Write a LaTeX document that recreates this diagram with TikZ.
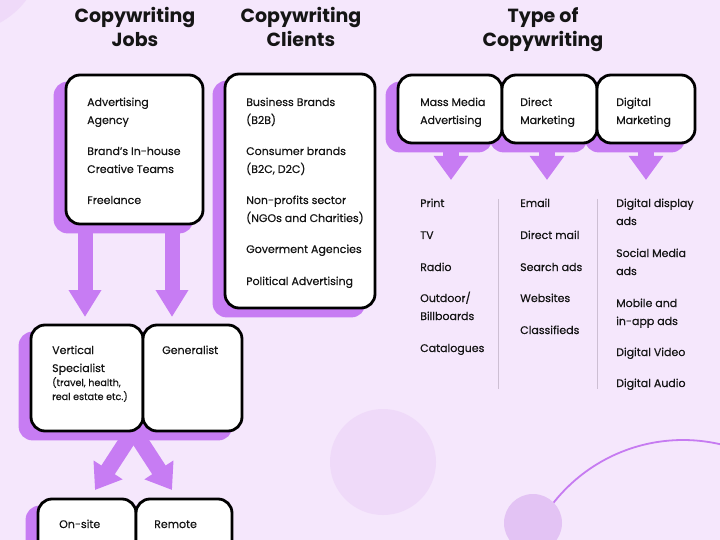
\documentclass[tikz,border=0pt]{standalone}
\usepackage{fontspec}
\setmainfont{Poppins}
\newfontfamily\bodyfont{Poppins}[FakeBold=0.35]
\usetikzlibrary{arrows.meta}
\definecolor{bgc}{HTML}{F5E7FC}
\definecolor{shadowc}{HTML}{C77CF3}
\definecolor{circa}{HTML}{EFDAF9}
\definecolor{circb}{HTML}{E3C3F4}
\definecolor{arcc}{HTML}{C67BF1}
\definecolor{sepc}{HTML}{CDBFD3}
\definecolor{ink}{HTML}{151515}
\pgfdeclarelayer{bg}
\pgfsetlayers{bg,main}
\newcommand\shadowof[1]{\fill[shadowc, rounded corners=14pt] ([shift={(-11,8)}]#1.south west) rectangle ([shift={(-11,8)}]#1.north east);}
\begin{document}
\begin{tikzpicture}[x=1pt,y=-1pt,
  box/.style={draw=black, line width=2.8pt, fill=white, rounded corners=14pt, inner sep=0pt},
  txt/.style={anchor=base west, inner sep=0pt, font=\bodyfont\fontsize{11}{13}\selectfont, text=ink},
  smalltxt/.style={anchor=base west, inner sep=0pt, font=\bodyfont\fontsize{9.6}{12}\selectfont, text=ink},
  ttl/.style={anchor=base, inner sep=0pt, font=\fontsize{19}{24}\selectfont\bfseries, text=ink},
  bigarrow/.style={draw=shadowc, line width=16pt, -{Triangle[width=33pt,length=24pt]}},
  jarrow/.style={draw=shadowc, line width=15pt, -{Triangle[width=31pt,length=27pt]}}
]
\useasboundingbox (0,0) rectangle (720,540);

% titles
\node[ttl] (h1a) at (135,23) {Copywriting};
\node[ttl] (h1b) at (135,47) {Jobs};
\node[ttl] (h2a) at (301,23) {Copywriting};
\node[ttl] (h2b) at (301,47) {Clients};
\node[ttl] (h3a) at (543,23) {Type of};
\node[ttl] (h3b) at (543,47) {Copywriting};

% boxes
\node[box, minimum width=137pt, minimum height=149pt] (jobs) at (134.5,149.5) {};
\node[box, minimum width=150pt, minimum height=234pt] (clients) at (300,191) {};
\node[box, minimum width=104pt, minimum height=68pt] (mass) at (450,109) {};
\node[box, minimum width=95pt, minimum height=68pt] (direct) at (549.5,109) {};
\node[box, minimum width=98pt, minimum height=68pt] (digital) at (646,109) {};
\node[box, minimum width=112pt, minimum height=106pt] (vert) at (87,378) {};
\node[box, minimum width=99pt, minimum height=106pt] (gen) at (192.5,378) {};
\node[box, minimum width=98pt, minimum height=81pt] (onsite) at (87,539.5) {};
\node[box, minimum width=96pt, minimum height=81pt] (remote) at (184,539.5) {};

% jobs text
\node[txt] (j1) at (87,106) {Advertising};
\node[txt] (j2) at (87,124) {Agency};
\node[txt] (j3) at (87,155) {Brand’s In-house};
\node[txt] (j4) at (87,173) {Creative Teams};
\node[txt] (j5) at (87,204) {Freelance};

% clients text
\node[txt] (c1) at (246,106) {Business Brands};
\node[txt] (c2) at (246,124) {(B2B)};
\node[txt] (c3) at (246,155) {Consumer brands};
\node[txt] (c4) at (246,173) {(B2C, D2C)};
\node[txt] (c5) at (246,204) {Non-profits sector};
\node[txt] (c6) at (246,222) {(NGOs and Charities)};
\node[txt] (c7) at (246,253) {Goverment Agencies};
\node[txt] (c8) at (246,285) {Political Advertising};

% type boxes text
\node[txt] (m1) at (420,106) {Mass Media};
\node[txt] (m2) at (420,124) {Advertising};
\node[txt] (d1) at (520,106) {Direct};
\node[txt] (d2) at (520,124) {Marketing};
\node[txt] (g1) at (616,106) {Digital};
\node[txt] (g2) at (616,124) {Marketing};

% lists
\node[txt] (l1) at (420,207) {Print};
\node[txt] (l2) at (420,239) {TV};
\node[txt] (l3) at (420,271) {Radio};
\node[txt] (l4) at (420,302) {Outdoor/};
\node[txt] (l5) at (420,320) {Billboards};
\node[txt] (l6) at (420,352) {Catalogues};
\node[txt] (e1) at (520,207) {Email};
\node[txt] (e2) at (520,239) {Direct mail};
\node[txt] (e3) at (520,271) {Search ads};
\node[txt] (e4) at (520,302) {Websites};
\node[txt] (e5) at (520,334) {Classifieds};
\node[txt] (k1) at (616,207) {Digital display};
\node[txt] (k2) at (616,225) {ads};
\node[txt] (k3) at (616,257) {Social Media};
\node[txt] (k4) at (616,275) {ads};
\node[txt] (k5) at (616,307) {Mobile and};
\node[txt] (k6) at (616,325) {in-app ads};
\node[txt] (k7) at (616,356) {Digital Video};
\node[txt] (k8) at (616,387) {Digital Audio};

% lower boxes text
\node[txt] (v1) at (52,354) {Vertical};
\node[txt] (v2) at (52,372) {Specialist};
\node[smalltxt] (v3) at (52,386) {(travel, health,};
\node[smalltxt] (v4) at (52,400) {real estate etc.)};
\node[txt] (gn) at (162,354) {Generalist};
\node[txt] (os) at (59,528) {On-site};
\node[txt] (rm) at (154,528) {Remote};

% arrow end points
\coordinate (jA) at (85,317);
\coordinate (jB) at (172,317);
\coordinate (tA) at (451,180);
\coordinate (tB) at (547,180);
\coordinate (tC) at (646,180);
\coordinate (dL) at (95,490);
\coordinate (dR) at (172,490);

\begin{pgfonlayer}{bg}
  \fill[bgc] (0,0) rectangle (720,540);
  \fill[circa] (-40,-50) circle[radius=83pt];
  \fill[circa] (383,462) circle[radius=53pt];
  \draw[arcc, line width=1.8pt] plot[domain=215:292, samples=80] ({683+165*cos(\x)},{605+165*sin(\x)});
  \fill[circb] (533,523) circle[radius=29pt];
  \draw[sepc, line width=0.8pt] (498,199) -- (498,389);
  \draw[sepc, line width=0.8pt] (597,199) -- (597,389);
  % arrows
  \draw[jarrow] (jobs.south -| jA) -- (jA);
  \draw[jarrow] (jobs.south -| jB) -- (jB);
  \draw[bigarrow] (mass.south -| tA) -- (tA);
  \draw[bigarrow] (direct.south -| tB) -- (tB);
  \draw[bigarrow] (digital.south -| tC) -- (tC);
  \draw[bigarrow] ([xshift=-12pt]vert.south east) -- (dL);
  \draw[bigarrow] ([xshift=-7pt]gen.south west) -- (dR);
  % shadows
  \shadowof{jobs}
  \shadowof{clients}
  \shadowof{mass}
  \shadowof{direct}
  \shadowof{digital}
  \shadowof{vert}
  \shadowof{gen}
  \shadowof{onsite}
  \shadowof{remote}
\end{pgfonlayer}
\end{tikzpicture}
\end{document}
